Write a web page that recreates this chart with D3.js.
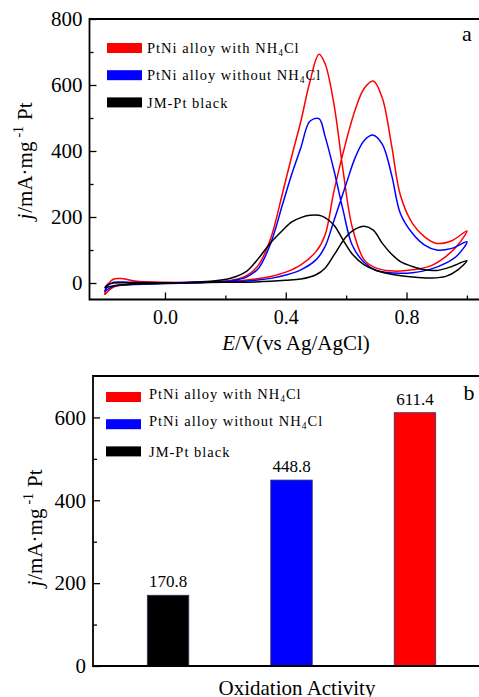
<!DOCTYPE html>
<html>
<head>
<meta charset="utf-8">
<script src="https://cdn.jsdelivr.net/npm/d3@7"></script>
<style>
  html, body { margin: 0; padding: 0; background: #fff; }
  svg { display: block; }
  text { font-family: "Liberation Serif", "Times New Roman", serif; fill: #000; }
</style>
</head>
<body>
<svg id="chart" width="479" height="697"></svg>
<script>
// ---------- DATA ----------
const seriesNames = ["PtNi alloy with NH4Cl", "PtNi alloy without NH4Cl", "JM-Pt black"];
const seriesColors = ["#ff0000", "#0000ff", "#000000"];

// forward scan potentials (V vs Ag/AgCl)
const forwardE = [-0.2, -0.19, -0.17, -0.14, -0.1, 0.0, 0.1, 0.2, 0.25, 0.3, 0.35, 0.4, 0.45, 0.5, 0.53, 0.56, 0.6, 0.63, 0.66, 0.69, 0.72, 0.75, 0.78, 0.82, 0.86, 0.9, 0.95, 1.0];
// reverse scan potentials
const reverseE = [1.0, 0.97, 0.93, 0.88, 0.82, 0.76, 0.7, 0.66, 0.62, 0.59, 0.56, 0.53, 0.51, 0.48, 0.45, 0.42, 0.39, 0.35, 0.31, 0.27, 0.22, 0.15, 0.05, -0.05, -0.12, -0.17, -0.2];

const redForward   = [-36, -5, 12, 13, 6, 2, 2, 4, 7, 12, 20, 33, 55, 95, 145, 280, 430, 525, 590, 612, 560, 420, 265, 180, 140, 120, 128, 158];
const redReverse   = [158, 115, 80, 52, 40, 36, 45, 70, 170, 340, 540, 665, 693, 610, 490, 385, 275, 135, 55, 22, 8, 3, 0, -2, -5, -12, -36];
const blueForward  = [-26, -8, 2, 3, 2, 1, 2, 3, 5, 8, 14, 24, 40, 70, 110, 190, 300, 380, 432, 448, 420, 330, 210, 150, 115, 100, 105, 125];
const blueReverse  = [125, 85, 60, 42, 31, 30, 38, 62, 115, 220, 340, 445, 498, 490, 410, 330, 240, 120, 45, 18, 7, 2, -1, -3, -5, -10, -26];
const blackForward = [-15, -5, 0, 1, 1, 1, 1, 2, 2, 3, 5, 8, 12, 25, 45, 85, 140, 163, 172, 160, 120, 88, 65, 50, 40, 38, 50, 68];
const blackReverse = [68, 40, 20, 15, 18, 25, 38, 55, 88, 130, 175, 198, 205, 205, 198, 185, 160, 122, 75, 35, 15, 5, 1, -2, -4, -8, -15];

const cvYTicks = [0, 200, 400, 600, 800];
const cvYMinor = [100, 300, 500, 700];
const cvXTicks = [0.0, 0.4, 0.8];
const cvXMinor = [0.2, 0.6, 1.0];

// bar panel
const barCategories = ["JM-Pt black", "PtNi alloy without NH4Cl", "PtNi alloy with NH4Cl"];
const barValues = [170.8, 448.8, 611.4];
const barColors = ["#000000", "#0000ff", "#ff0000"];
const barYTicks = [0, 200, 400, 600];
const barYMinor = [100, 300, 500];

// ---------- DRAW ----------
const svg = d3.select("#chart");
const FONT = "Liberation Serif, Times New Roman, serif";

function legendLabel(g, name, x, y) {
  const t = g.append("text").attr("x", x).attr("y", y)
    .attr("font-size", 14.5).attr("letter-spacing", 1.0);
  const m = name.match(/^(.*NH)4(Cl)$/);
  if (m) {
    t.append("tspan").text(m[1]);
    t.append("tspan").attr("font-size", 9.5).attr("dy", 3).text("4");
    t.append("tspan").attr("dy", -3).text(m[2]);
  } else {
    t.text(name);
  }
}

function yLabel(g, x, y) {
  const t = g.append("text")
    .attr("transform", `translate(${x},${y}) rotate(-90)`)
    .attr("text-anchor", "middle")
    .attr("font-size", 21);
  t.append("tspan").attr("font-style", "italic").text("j");
  t.append("tspan").attr("dx", 1).text("/mA\u00b7mg");
  t.append("tspan").attr("font-size", 14).attr("dy", -9).attr("dx", 4).text("-1");
  t.append("tspan").attr("dy", 9).attr("dx", 6).text("Pt");
}

// ===== Panel a =====
const A = { left: 89.5, top: 19, bottom: 299.5, right: 482 };
const xA = d3.scaleLinear().domain([-0.25, 1.05]).range([A.left, A.right]);
const yA = d3.scaleLinear().domain([-50, 800]).range([A.bottom, A.top]);

const gA = svg.append("g");

const cvSeries = [
  { f: redForward, r: redReverse, c: seriesColors[0] },
  { f: blueForward, r: blueReverse, c: seriesColors[1] },
  { f: blackForward, r: blackReverse, c: seriesColors[2] }
];
const line = d3.line()
  .x(d => xA(d[0])).y(d => yA(d[1]))
  .curve(d3.curveCatmullRom.alpha(0.5));

cvSeries.forEach(s => {
  const pts = forwardE.map((e, i) => [e, s.f[i]])
    .concat(reverseE.slice(1).map((e, i) => [e, s.r[i + 1]]));
  gA.append("path").attr("d", line(pts))
    .attr("fill", "none").attr("stroke", s.c).attr("stroke-width", 1.5);
});

// axes
const yAxisA = d3.axisLeft(yA).tickValues(cvYTicks).tickSize(-7).tickPadding(7)
  .tickFormat(d3.format("d"));
gA.append("g").attr("transform", `translate(${A.left},0)`).call(yAxisA)
  .call(g => g.select(".domain").remove())
  .call(g => g.selectAll("text").attr("font-size", 21).attr("font-family", FONT))
  .call(g => g.selectAll("line").attr("stroke-width", 1.3));
gA.append("g").attr("transform", `translate(${A.left},0)`)
  .call(d3.axisLeft(yA).tickValues(cvYMinor).tickSize(-4).tickFormat(""))
  .call(g => g.select(".domain").remove())
  .call(g => g.selectAll("line").attr("stroke-width", 1.3));

const xAxisA = d3.axisBottom(xA).tickValues(cvXTicks).tickSize(-7).tickPadding(10)
  .tickFormat(d3.format(".1f"));
gA.append("g").attr("transform", `translate(0,${A.bottom})`).call(xAxisA)
  .call(g => g.select(".domain").remove())
  .call(g => g.selectAll("text").attr("font-size", 20).attr("font-family", FONT))
  .call(g => g.selectAll("line").attr("stroke-width", 1.3));
gA.append("g").attr("transform", `translate(0,${A.bottom})`)
  .call(d3.axisBottom(xA).tickValues(cvXMinor).tickSize(-4).tickFormat(""))
  .call(g => g.select(".domain").remove())
  .call(g => g.selectAll("line").attr("stroke-width", 1.3));

// frame
gA.append("path")
  .attr("d", `M${A.right},${A.top}H${A.left}V${A.bottom}H${A.right}`)
  .attr("fill", "none").attr("stroke", "#000").attr("stroke-width", 1.8);

// labels
yLabel(gA, 32, 161);
const xl = gA.append("text").attr("x", 296).attr("y", 350)
  .attr("text-anchor", "middle").attr("font-size", 21);
xl.append("tspan").attr("font-style", "italic").text("E");
xl.append("tspan").text("/V(vs Ag/AgCl)");
gA.append("text").attr("x", 467).attr("y", 41).attr("text-anchor", "middle")
  .attr("font-size", 22).text("a");

// legend a
seriesNames.forEach((n, i) => {
  const yy = 43 + i * 27.2;
  gA.append("rect").attr("x", 107).attr("y", yy).attr("width", 35).attr("height", 10)
    .attr("fill", seriesColors[i]);
  legendLabel(gA, n, 147, yy + 9.5 + (i === 2 ? 1.5 : 0));
});

// ===== Panel b =====
const B = { left: 93, top: 376, bottom: 666, right: 490 };
const xB = d3.scaleBand().domain(barCategories).range([B.left, B.right])
  .paddingInner(0.664).paddingOuter(0.44);
const yB = d3.scaleLinear().domain([0, 700]).range([B.bottom, B.top]);
const gB = svg.append("g");

gB.selectAll("rect.bar").data(barCategories).join("rect")
  .attr("class", "bar")
  .attr("x", d => xB(d)).attr("width", xB.bandwidth())
  .attr("y", (d, i) => yB(barValues[i]))
  .attr("height", (d, i) => yB(0) - yB(barValues[i]))
  .attr("fill", (d, i) => barColors[i])
  .attr("stroke", "#333366").attr("stroke-width", 0.8);

gB.selectAll("text.val").data(barCategories).join("text")
  .attr("class", "val")
  .attr("x", d => xB(d) + xB.bandwidth() / 2)
  .attr("y", (d, i) => yB(barValues[i]) - 8)
  .attr("text-anchor", "middle").attr("font-size", 17)
  .text((d, i) => barValues[i].toFixed(1));

gB.append("g").attr("transform", `translate(${B.left},0)`)
  .call(d3.axisLeft(yB).tickValues(barYTicks).tickSize(-7).tickPadding(7).tickFormat(d3.format("d")))
  .call(g => g.select(".domain").remove())
  .call(g => g.selectAll("text").attr("font-size", 21).attr("font-family", FONT))
  .call(g => g.selectAll("line").attr("stroke-width", 1.3));
gB.append("g").attr("transform", `translate(${B.left},0)`)
  .call(d3.axisLeft(yB).tickValues(barYMinor).tickSize(-4).tickFormat(""))
  .call(g => g.select(".domain").remove())
  .call(g => g.selectAll("line").attr("stroke-width", 1.3));

gB.append("path")
  .attr("d", `M${B.right},${B.top}H${B.left}V${B.bottom}H${B.right}`)
  .attr("fill", "none").attr("stroke", "#000").attr("stroke-width", 1.8);

yLabel(gB, 42, 528);
gB.append("text").attr("x", 297).attr("y", 695).attr("text-anchor", "middle")
  .attr("font-size", 21).text("Oxidation Activity");
gB.append("text").attr("x", 469).attr("y", 400).attr("text-anchor", "middle")
  .attr("font-size", 22).text("b");

seriesNames.forEach((n, i) => {
  const yy = 392 + i * 27.2;
  gB.append("rect").attr("x", 106).attr("y", yy).attr("width", 35).attr("height", 10)
    .attr("fill", seriesColors[i]);
  legendLabel(gB, n, 149, yy + 7 + (i === 2 ? 4 : 0));
});
</script>
</body>
</html>
